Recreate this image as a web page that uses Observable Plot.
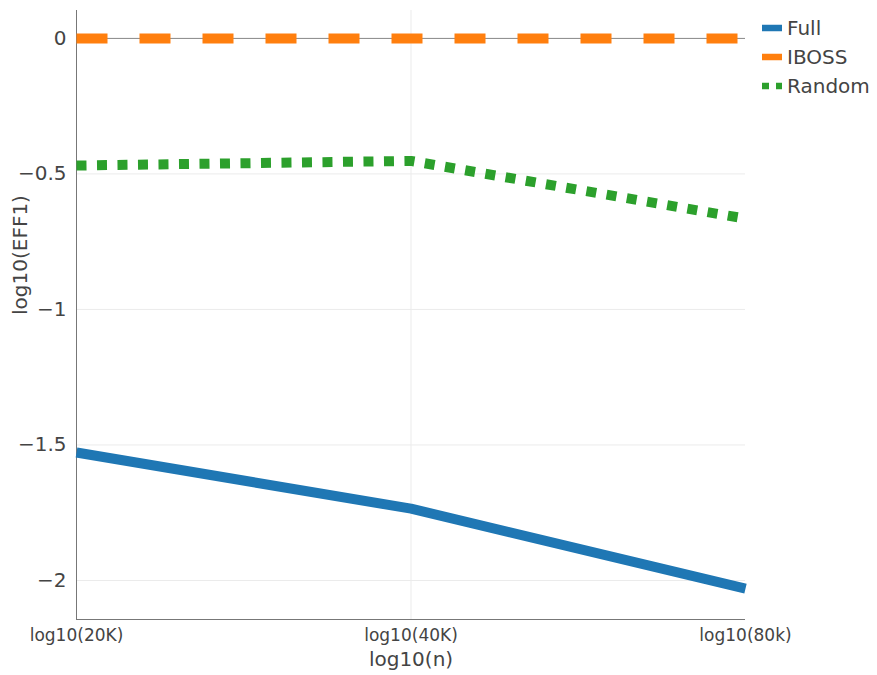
<!DOCTYPE html>
<html>
<head>
<meta charset="utf-8">
<script src="https://cdn.jsdelivr.net/npm/d3@7"></script>
<script src="https://cdn.jsdelivr.net/npm/@observablehq/plot@0.6"></script>
<style>
  html, body { margin: 0; padding: 0; background: white; }
  #wrap { position: relative; width: 877px; height: 675px; font-family: "DejaVu Sans", sans-serif; }
  #legend { position: absolute; left: 762px; top: 13px; color: #444; font-size: 20px; }
  .item { display: flex; align-items: center; height: 29px; }
  .item svg { margin-right: 5px; }
</style>
</head>
<body>
<div id="wrap"><div id="legend"></div></div>
<script>
const nValues = [20000, 40000, 80000];
const nLabels = ["log10(20K)", "log10(40K)", "log10(80k)"];
const seriesNames = ["Full", "IBOSS", "Random"];
const fullValues = [-1.528, -1.735, -2.03];
const ibossValues = [0, 0, 0];
const randomValues = [-0.469, -0.452, -0.665];
const yTicks = [0, -0.5, -1, -1.5, -2];
const yTickLabels = ["0", "\u22120.5", "\u22121", "\u22121.5", "\u22122"];
const colors = ["#1f77b4", "#ff7f0e", "#2ca02c"];
const dashes = [null, "31,32", "10,10.5"];
const legendDashes = [null, null, "7,7"];

const seriesValues = [fullValues, ibossValues, randomValues];
const yDomain = [-2.144, 0.103];

const lineMarks = seriesNames.map((name, s) => {
  const rows = nValues.map((n, i) => ({n, v: seriesValues[s][i]}));
  const opts = {x: "n", y: "v", stroke: colors[s], strokeWidth: 10, strokeLinecap: "butt", strokeLinejoin: "round"};
  if (dashes[s]) opts.strokeDasharray = dashes[s];
  return Plot.line(rows, opts);
});

const chart = Plot.plot({
  width: 877,
  height: 675,
  marginLeft: 76,
  marginRight: 132,
  marginTop: 10,
  marginBottom: 56,
  x: {type: "log", domain: [nValues[0], nValues[nValues.length - 1]]},
  y: {domain: yDomain},
  style: {fontFamily: "DejaVu Sans", color: "#444", background: "transparent", overflow: "visible"},
  marks: [
    Plot.gridY(yTicks.filter(d => d !== 0), {stroke: "#ebebeb", strokeOpacity: 1}),
    Plot.gridX([nValues[1]], {stroke: "#ebebeb", strokeOpacity: 1}),
    Plot.ruleY([0], {stroke: "#888", strokeWidth: 1}),
    Plot.ruleX([nValues[0]], {stroke: "#777", strokeWidth: 1}),
    Plot.ruleY([yDomain[0]], {stroke: "#777", strokeWidth: 1}),
    Plot.axisY(yTicks, {tickSize: 0, tickPadding: 10, fontSize: 20, label: null, fill: "#444",
      tickFormat: d => yTickLabels[yTicks.indexOf(d)]}),
    Plot.axisX(nValues, {tickSize: 0, tickPadding: 9, fontSize: 17, label: null, fill: "#444",
      tickFormat: d => nLabels[nValues.indexOf(d)]}),
    Plot.text(["log10(n)"], {frameAnchor: "bottom", dy: 46, fontSize: 20, fill: "#444", text: d => d}),
    Plot.text(["log10(EFF1)"], {frameAnchor: "left", dx: -56, rotate: -90, fontSize: 20, fill: "#444", text: d => d}),
    ...lineMarks
  ]
});
document.getElementById("wrap").prepend(chart);

const legend = document.getElementById("legend");
seriesNames.forEach((name, s) => {
  const item = document.createElement("div");
  item.className = "item";
  const dash = legendDashes[s] ? ` stroke-dasharray="${legendDashes[s]}"` : "";
  item.innerHTML = `<svg width="20" height="10"><line x1="0" x2="20" y1="5" y2="5" stroke="${colors[s]}" stroke-width="6.5"${dash}/></svg><span>${name}</span>`;
  legend.appendChild(item);
});
</script>
</body>
</html>
